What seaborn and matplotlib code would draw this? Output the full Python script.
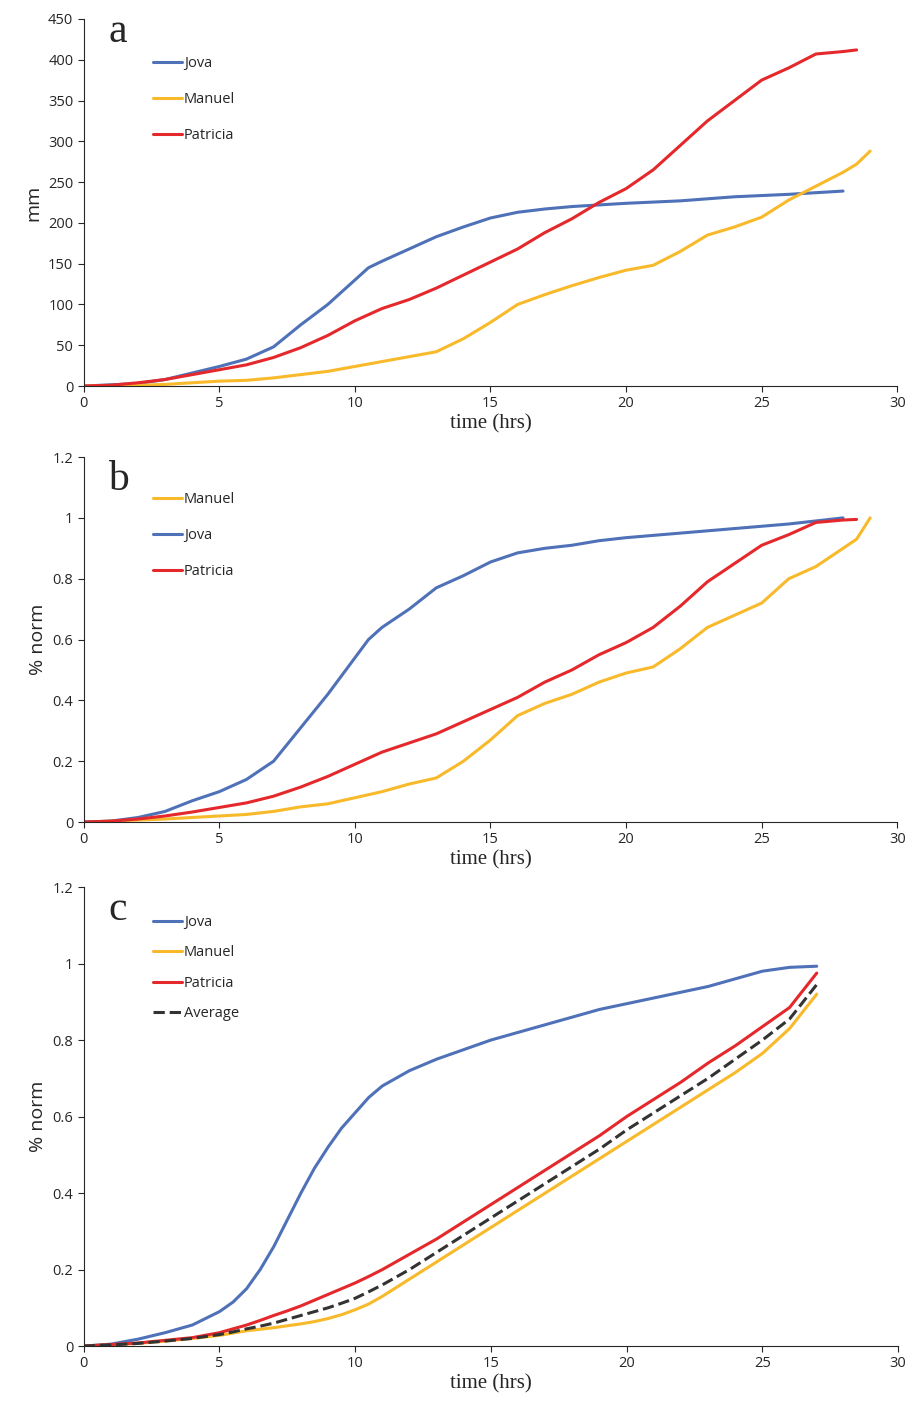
import matplotlib
matplotlib.use("Agg")
import matplotlib.pyplot as plt
import seaborn as sns
import numpy as np

sns.set_style("ticks")
plt.rcParams['font.family'] = ['Open Sans', 'DejaVu Sans']

BLUE, ORANGE, RED = "#4F71B8", "#F8B92A", "#E4282B"

# Panel a (mm)
a_jova_t = [0,2,3,4,5,6,7,8,9,10,10.5,11,12,13,14,15,16,17,18,19,20,22,24,26,28]
a_jova_v = [0,3,8,16,24,33,48,75,100,130,145,153,168,183,195,206,213,217,220,222,224,227,232,235,239]
a_man_t = [0,2,3,4,5,6,7,8,9,10,11,12,13,14,15,16,17,18,19,20,21,22,23,24,25,26,27,28,28.5,29]
a_man_v = [0,1,2,4,6,7,10,14,18,24,30,36,42,58,78,100,112,123,133,142,148,165,185,195,207,228,245,262,272,288]
a_pat_t = [0,1,2,3,4,5,6,7,8,9,10,11,12,13,14,15,16,17,18,19,20,21,22,23,24,25,26,27,28,28.5]
a_pat_v = [0,1,4,8,14,20,26,35,47,62,80,95,106,120,136,152,168,188,205,225,242,265,295,325,350,375,390,407,410,412]

# Panel b (normalised)
b_jova_t = [0,1,2,3,4,5,6,7,8,9,10,10.5,11,12,13,14,15,16,17,18,19,20,22,24,26,28]
b_jova_v = [0,0.003,0.015,0.035,0.07,0.1,0.14,0.2,0.31,0.42,0.54,0.6,0.64,0.7,0.77,0.81,0.855,0.885,0.9,0.91,0.925,0.935,0.95,0.965,0.98,1.0]
b_man_t = [0,3,4,5,6,7,8,9,10,11,12,13,14,15,16,17,18,19,20,21,22,23,24,25,26,27,28,28.5,29]
b_man_v = [0,0.01,0.015,0.02,0.025,0.035,0.05,0.06,0.08,0.1,0.125,0.145,0.2,0.27,0.35,0.39,0.42,0.46,0.49,0.51,0.57,0.64,0.68,0.72,0.8,0.84,0.9,0.93,1.0]
b_pat_t = [0,1,2,3,4,5,6,7,8,9,10,11,12,13,14,15,16,17,18,19,20,21,22,23,24,25,26,27,28,28.5]
b_pat_v = [0,0.003,0.01,0.02,0.033,0.048,0.063,0.085,0.115,0.15,0.19,0.23,0.26,0.29,0.33,0.37,0.41,0.46,0.5,0.55,0.59,0.64,0.71,0.79,0.85,0.91,0.945,0.985,0.993,0.995]

# Panel c (fitted, normalised)
c_t = [0,1,2,3,4,5,5.5,6,6.5,7,7.5,8,8.5,9,9.5,10,10.5,11,12,13,14,15,16,17,18,19,20,21,22,23,24,25,26,27]
c_jova = [0,0.005,0.018,0.035,0.055,0.09,0.115,0.15,0.2,0.26,0.33,0.4,0.465,0.52,0.57,0.61,0.65,0.68,0.72,0.75,0.775,0.8,0.82,0.84,0.86,0.88,0.895,0.91,0.925,0.94,0.96,0.98,0.99,0.993]
c_man = [0,0.003,0.007,0.013,0.02,0.028,0.034,0.04,0.044,0.048,0.053,0.058,0.064,0.072,0.082,0.095,0.11,0.13,0.175,0.22,0.265,0.31,0.355,0.4,0.445,0.49,0.535,0.58,0.625,0.67,0.715,0.765,0.83,0.92]
c_pat = [0,0.004,0.008,0.015,0.022,0.035,0.045,0.055,0.067,0.08,0.092,0.105,0.12,0.135,0.15,0.165,0.182,0.2,0.24,0.28,0.325,0.37,0.415,0.46,0.505,0.55,0.6,0.645,0.69,0.74,0.785,0.835,0.885,0.975]
c_avg = [0,0.003,0.007,0.013,0.02,0.03,0.037,0.045,0.052,0.06,0.07,0.08,0.09,0.1,0.112,0.125,0.142,0.16,0.2,0.245,0.29,0.335,0.38,0.425,0.47,0.515,0.565,0.61,0.655,0.7,0.75,0.8,0.855,0.945]

fig = plt.figure(figsize=(9.1, 14.12), dpi=100)
axa = fig.add_axes([0.092, 0.7266, 0.894, 0.26])
axb = fig.add_axes([0.092, 0.4178, 0.894, 0.2585])
axc = fig.add_axes([0.092, 0.0467, 0.895, 0.3251])

def line(ax, t, v, c, lab, ls='-'):
    sns.lineplot(x=t, y=v, ax=ax, color=c, lw=2.2, label=lab, linestyle=ls)

line(axa, a_jova_t, a_jova_v, BLUE, "Jova")
line(axa, a_man_t, a_man_v, ORANGE, "Manuel")
line(axa, a_pat_t, a_pat_v, RED, "Patricia")
line(axb, b_man_t, b_man_v, ORANGE, "Manuel")
line(axb, b_jova_t, b_jova_v, BLUE, "Jova")
line(axb, b_pat_t, b_pat_v, RED, "Patricia")
line(axc, c_t, c_jova, BLUE, "Jova")
line(axc, c_t, c_man, ORANGE, "Manuel")
line(axc, c_t, c_pat, RED, "Patricia")
line(axc, c_t, c_avg, "#333333", "Average", ls='--')

H = 1412.0
for ax, letter, ylab, ymax, step, ly, legy, sp in [
        (axa, 'a', 'mm', 450, 50, 12, 43, 1.45),
        (axb, 'b', '% norm', 1.2, 0.2, 460, 479, 1.45),
        (axc, 'c', '% norm', 1.2, 0.2, 890, 902, 1.05)]:
    ax.set_xlim(0, 30)
    ax.set_ylim(0, ymax)
    ax.set_xticks(range(0, 31, 5))
    ax.set_yticks(np.round(np.arange(0, ymax + step/2, step), 1))
    if ymax == 450:
        ax.set_yticklabels([str(int(x)) for x in np.arange(0, 451, 50)])
    else:
        ax.set_yticklabels(['0','0.2','0.4','0.6','0.8','1','1.2'])
    for s in ['top', 'right']:
        ax.spines[s].set_visible(False)
    ax.tick_params(labelsize=10.5, direction='out', length=4)
    ax.set_xlabel("time (hrs)", fontsize=15, family='Liberation Serif', labelpad=2)
    ax.set_ylabel(ylab, fontsize=14, labelpad=4)
    fig.text(108/910, 1 - ly/H, letter, fontsize=30, family='Liberation Serif', va='top')
    ax.legend(loc='upper left', bbox_to_anchor=(140/910, 1 - legy/H), bbox_transform=fig.transFigure,
              frameon=False, fontsize=10.5, handlelength=2.0, handletextpad=0.1, labelspacing=sp)

fig.savefig("out.png", dpi=100)
